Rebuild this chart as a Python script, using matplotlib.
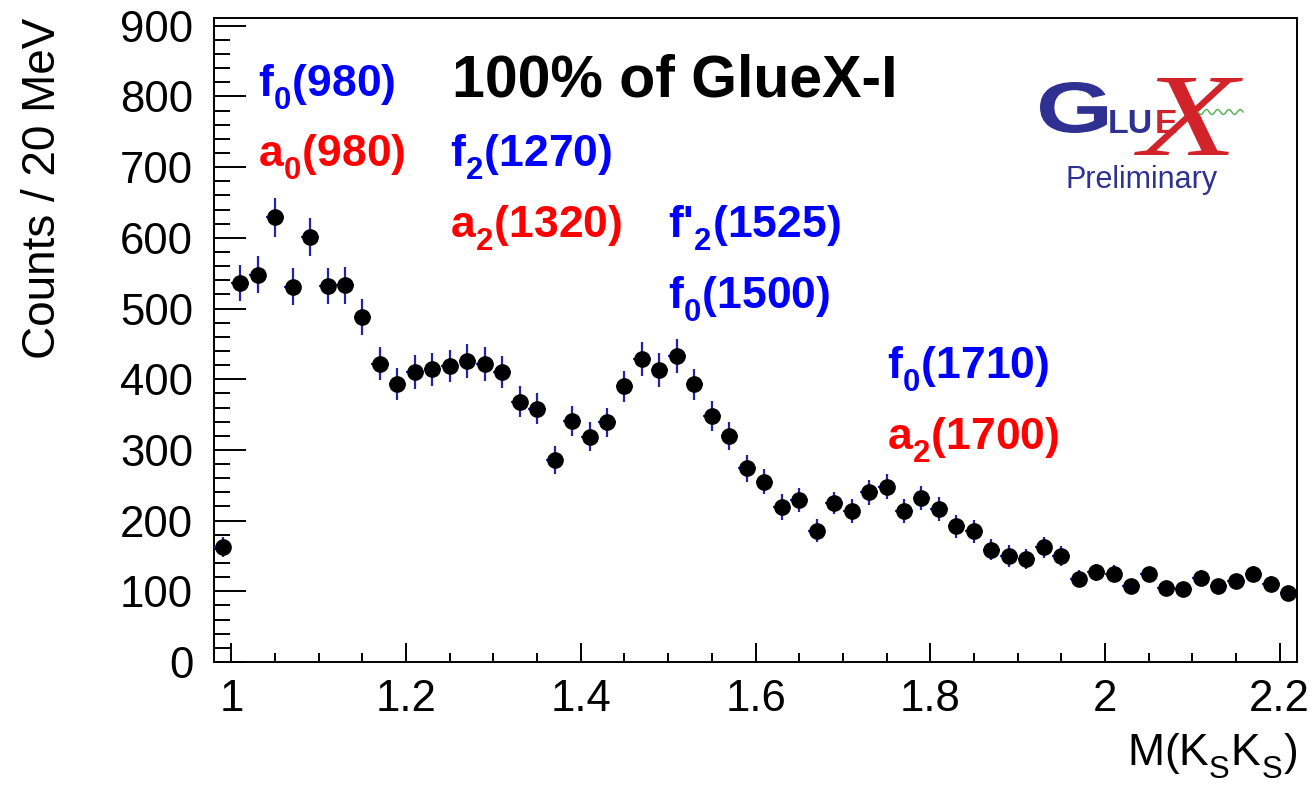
import matplotlib
matplotlib.use("Agg")
import matplotlib.pyplot as plt
import matplotlib._mathtext as mathtext_internals
from matplotlib.ticker import MultipleLocator
from matplotlib.lines import Line2D
from matplotlib.textpath import TextPath
from matplotlib.patches import PathPatch
from matplotlib.font_manager import FontProperties
from matplotlib.transforms import Affine2D
import numpy as np

plt.rcParams['font.family'] = ['Liberation Sans', 'DejaVu Sans']
plt.rcParams['mathtext.fontset'] = 'custom'
plt.rcParams['mathtext.rm'] = 'Liberation Sans'
plt.rcParams['mathtext.bf'] = 'Liberation Sans:bold'
# ROOT drops its subscripts lower than mathtext does
mathtext_internals.FontConstantsBase.sub1 = 0.55

# bin centres (GeV), 20 MeV bins
mass = [0.99, 1.01, 1.03, 1.05, 1.07, 1.09, 1.11, 1.13, 1.15, 1.17,
        1.19, 1.21, 1.23, 1.25, 1.27, 1.29, 1.31, 1.33, 1.35, 1.37,
        1.39, 1.41, 1.43, 1.45, 1.47, 1.49, 1.51, 1.53, 1.55, 1.57,
        1.59, 1.61, 1.63, 1.65, 1.67, 1.69, 1.71, 1.73, 1.75, 1.77,
        1.79, 1.81, 1.83, 1.85, 1.87, 1.89, 1.91, 1.93, 1.95, 1.97,
        1.99, 2.01, 2.03, 2.05, 2.07, 2.09, 2.11, 2.13, 2.15, 2.17,
        2.19, 2.21]
counts = [163, 536, 548, 629, 531, 601, 532, 533, 488, 422,
          393, 410, 414, 419, 426, 421, 410, 368, 358, 286,
          341, 319, 339, 390, 428, 413, 433, 393, 348, 320,
          274, 255, 219, 229, 186, 225, 213, 240, 248, 214,
          232, 216, 192, 185, 159, 150, 146, 162, 150, 118,
          127, 125, 107, 124, 104, 103, 119, 108, 114, 125,
          111, 98]
errors = [14, 25, 26, 28, 26, 27, 26, 26, 25, 23,
          23, 24, 23, 23, 24, 24, 23, 22, 22, 20,
          21, 21, 21, 22, 24, 24, 24, 22, 21, 20,
          19, 18, 18, 17, 16, 16, 17, 18, 18, 17,
          17, 17, 16, 16, 15, 15, 14, 15, 14, 12,
          12, 12, 11, 11, 10, 10, 11, 10, 10, 11,
          10, 10]
half_bin = 0.01

# resonance labels: (name, subscript, mass text, x, y, colour)
labels = [
    ("f", "0", "(980)", 1.03, 800, "blue"),
    ("a", "0", "(980)", 1.03, 700, "red"),
    ("f", "2", "(1270)", 1.25, 700, "blue"),
    ("a", "2", "(1320)", 1.25, 600, "red"),
    ("f'", "2", "(1525)", 1.50, 600, "blue"),
    ("f", "0", "(1500)", 1.50, 500, "blue"),
    ("f", "0", "(1710)", 1.75, 400, "blue"),
    ("a", "2", "(1700)", 1.75, 300, "red"),
]

fig = plt.figure(figsize=(13.13, 7.9), dpi=100)
ax = fig.add_axes([0.163, 0.162, 0.8248, 0.8152])

ax.errorbar(mass, counts, yerr=errors, xerr=half_bin, fmt='o', color='black',
            ms=11, ecolor='#2222aa', elinewidth=1.6, capsize=0, zorder=3)

ax.set_xlim(0.98, 2.22)
ax.set_ylim(0, 911)
ax.xaxis.set_minor_locator(MultipleLocator(0.05))
ax.yaxis.set_major_locator(MultipleLocator(100))
ax.yaxis.set_minor_locator(MultipleLocator(20))
ax.set_xticks([1.0, 1.2, 1.4, 1.6, 1.8, 2.0, 2.2])
ax.set_xticklabels(["1", "1.2", "1.4", "1.6", "1.8", "2", "2.2"])

ax.tick_params(which='both', direction='in', top=False, right=False,
               width=1.4, labelsize=31.5)
ax.tick_params(axis='x', which='major', length=13.5, pad=12)
ax.tick_params(axis='x', which='minor', length=6.5)
ax.tick_params(axis='y', which='major', length=23, pad=15)
ax.tick_params(axis='y', which='minor', length=11.5)
for s in ax.spines.values():
    s.set_linewidth(1.4)

ax.set_xlabel(r"M(K$_\mathrm{S}$K$_\mathrm{S}$)", fontsize=32, loc='right')
ax.xaxis.set_label_coords(1.0, -0.108)
ax.set_ylabel("Counts / 20 MeV", fontsize=33, loc='top')
ax.yaxis.set_label_coords(-0.138, 1.0)

for name, sub, m, x, y, c in labels:
    ax.text(x, y, name + r"$_\mathbf{" + sub + "}$" + m, color=c,
            fontsize=32, fontweight='bold', va='baseline', ha='left')

ax.text(1.2526, 800, "100% of GlueX-I", fontsize=42.5, fontweight='bold',
        va='baseline', ha='left')


# GlueX logo (approximate), positions in pixels from the top-left
def glyph(char, prop, left, top, right, bottom, color):
    tp = TextPath((0, 0), char, size=100, prop=prop)
    ext = tp.get_extents()
    h = fig.bbox.height
    tr = (Affine2D().translate(-ext.x0, -ext.y0)
          .scale((right - left) / ext.width, (bottom - top) / ext.height)
          .translate(left, h - bottom))
    fig.add_artist(PathPatch(tp, transform=tr, color=color, lw=0))


logo_blue = '#2e3192'
logo_red = '#d2232a'
glyph("G", FontProperties(family='Liberation Sans', weight='bold'),
      1040, 82, 1107, 133, logo_blue)
fig.text(1108 / 1313, 1 - 133 / 790, "LU", fontsize=24.5, fontweight='bold',
         color=logo_blue, va='baseline', ha='left')
fig.text(1155 / 1313, 1 - 133 / 790, "E", fontsize=24.5, fontweight='bold',
         color=logo_red, va='baseline', ha='left')
glyph("X", FontProperties(family='Liberation Serif', style='italic'),
      1134, 78, 1243, 155, logo_red)
wave_x = np.linspace(1198, 1243, 60)
wave_y = 112 + 2.5 * np.sin((wave_x - 1198) / 45 * 2 * np.pi * 4)
fig.add_artist(Line2D(wave_x / 1313, 1 - wave_y / 790, color='#4caf50',
                      lw=1.0, transform=fig.transFigure))
fig.text(1142 / 1313, 1 - 188 / 790, "Preliminary", fontsize=22,
         color=logo_blue, va='baseline', ha='center')

fig.savefig("out.png", dpi=100)
